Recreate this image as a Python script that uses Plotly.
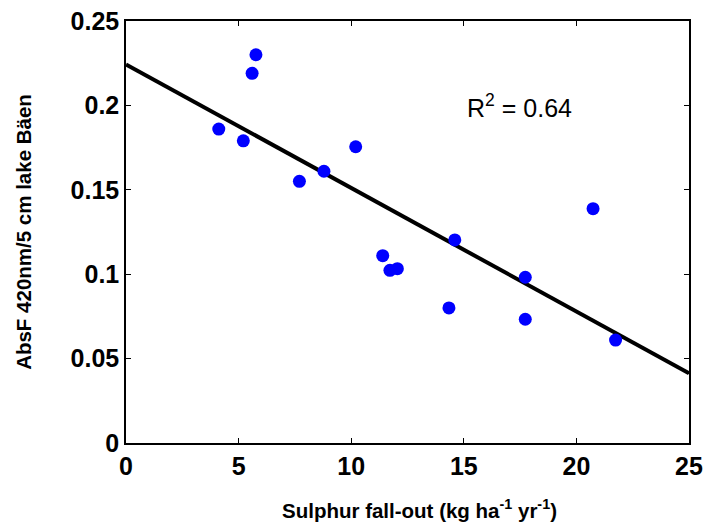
import numpy as np
import plotly.graph_objects as go

# Sulphur fall-out (kg ha-1 yr-1) and sediment absorbance, lake Bäen
sulphur = [4.12, 5.21, 5.60, 5.77, 7.70, 8.79, 10.20, 11.40, 11.72, 12.05,
           14.34, 14.60, 17.73, 17.73, 20.74, 21.74]
absf = [0.186, 0.179, 0.219, 0.230, 0.155, 0.161, 0.1755, 0.111, 0.1023, 0.1033,
        0.080, 0.1203, 0.0982, 0.0733, 0.1388, 0.061]

# linear fit shown on the chart
fit_intercept = 0.2243
fit_slope = -0.00732
r_squared = 0.64

x_range = [0, 25]
y_range = [0, 0.25]
x_ticks = [0, 5, 10, 15, 20, 25]
y_ticks = [0, 0.05, 0.1, 0.15, 0.2, 0.25]

font_family = "Liberation Sans, Arial, Helvetica, sans-serif"

fit_x = np.array(x_range, dtype=float)
fit_y = fit_intercept + fit_slope * fit_x

fig = go.Figure()
fig.add_trace(go.Scatter(
    x=fit_x, y=fit_y, mode="lines",
    line=dict(color="black", width=4),
    showlegend=False, hoverinfo="skip",
))
fig.add_trace(go.Scatter(
    x=sulphur, y=absf, mode="markers",
    marker=dict(color="#0000ff", size=13, line=dict(width=0)),
    showlegend=False,
))

fig.add_annotation(
    x=15.05, y=0.1997, xref="x", yref="y", xanchor="left", yanchor="middle",
    text=f"R<sup>2</sup> = {r_squared:.2f}", showarrow=False,
    font=dict(family=font_family, size=25, color="black"),
)

# x-axis title, set slightly right of the plot centre
fig.add_annotation(
    x=0.522, y=-0.156, xref="paper", yref="paper", xanchor="center", yanchor="middle",
    text="<b>Sulphur fall-out (kg ha<sup>-1</sup> yr<sup>-1</sup>)</b>", showarrow=False,
    font=dict(family=font_family, size=20.5, color="black"),
)

axis_common = dict(
    showgrid=False, zeroline=False, automargin=False,
    showline=True, linecolor="black", linewidth=1.5, mirror="ticks",
    ticks="inside", ticklen=5, tickwidth=1, tickcolor="black",
    tickfont=dict(family=font_family, size=25, color="black"),
)

fig.update_xaxes(
    range=x_range, tickvals=x_ticks,
    ticktext=[f"<b>{v}</b>" for v in x_ticks],
    **axis_common,
)
fig.update_yaxes(
    range=y_range, tickvals=y_ticks,
    ticktext=[f"<b>{v:g}</b>" for v in y_ticks],
    title=dict(text="<b>AbsF 420nm/5 cm lake Bäen</b>",
               font=dict(family=font_family, size=20.5, color="black"), standoff=33),
    **axis_common,
)

fig.update_layout(
    width=707, height=524,
    margin=dict(l=126, r=18, t=21, b=81),
    paper_bgcolor="white", plot_bgcolor="white",
    font=dict(family=font_family, color="black"),
)

fig.write_html("out.html")
